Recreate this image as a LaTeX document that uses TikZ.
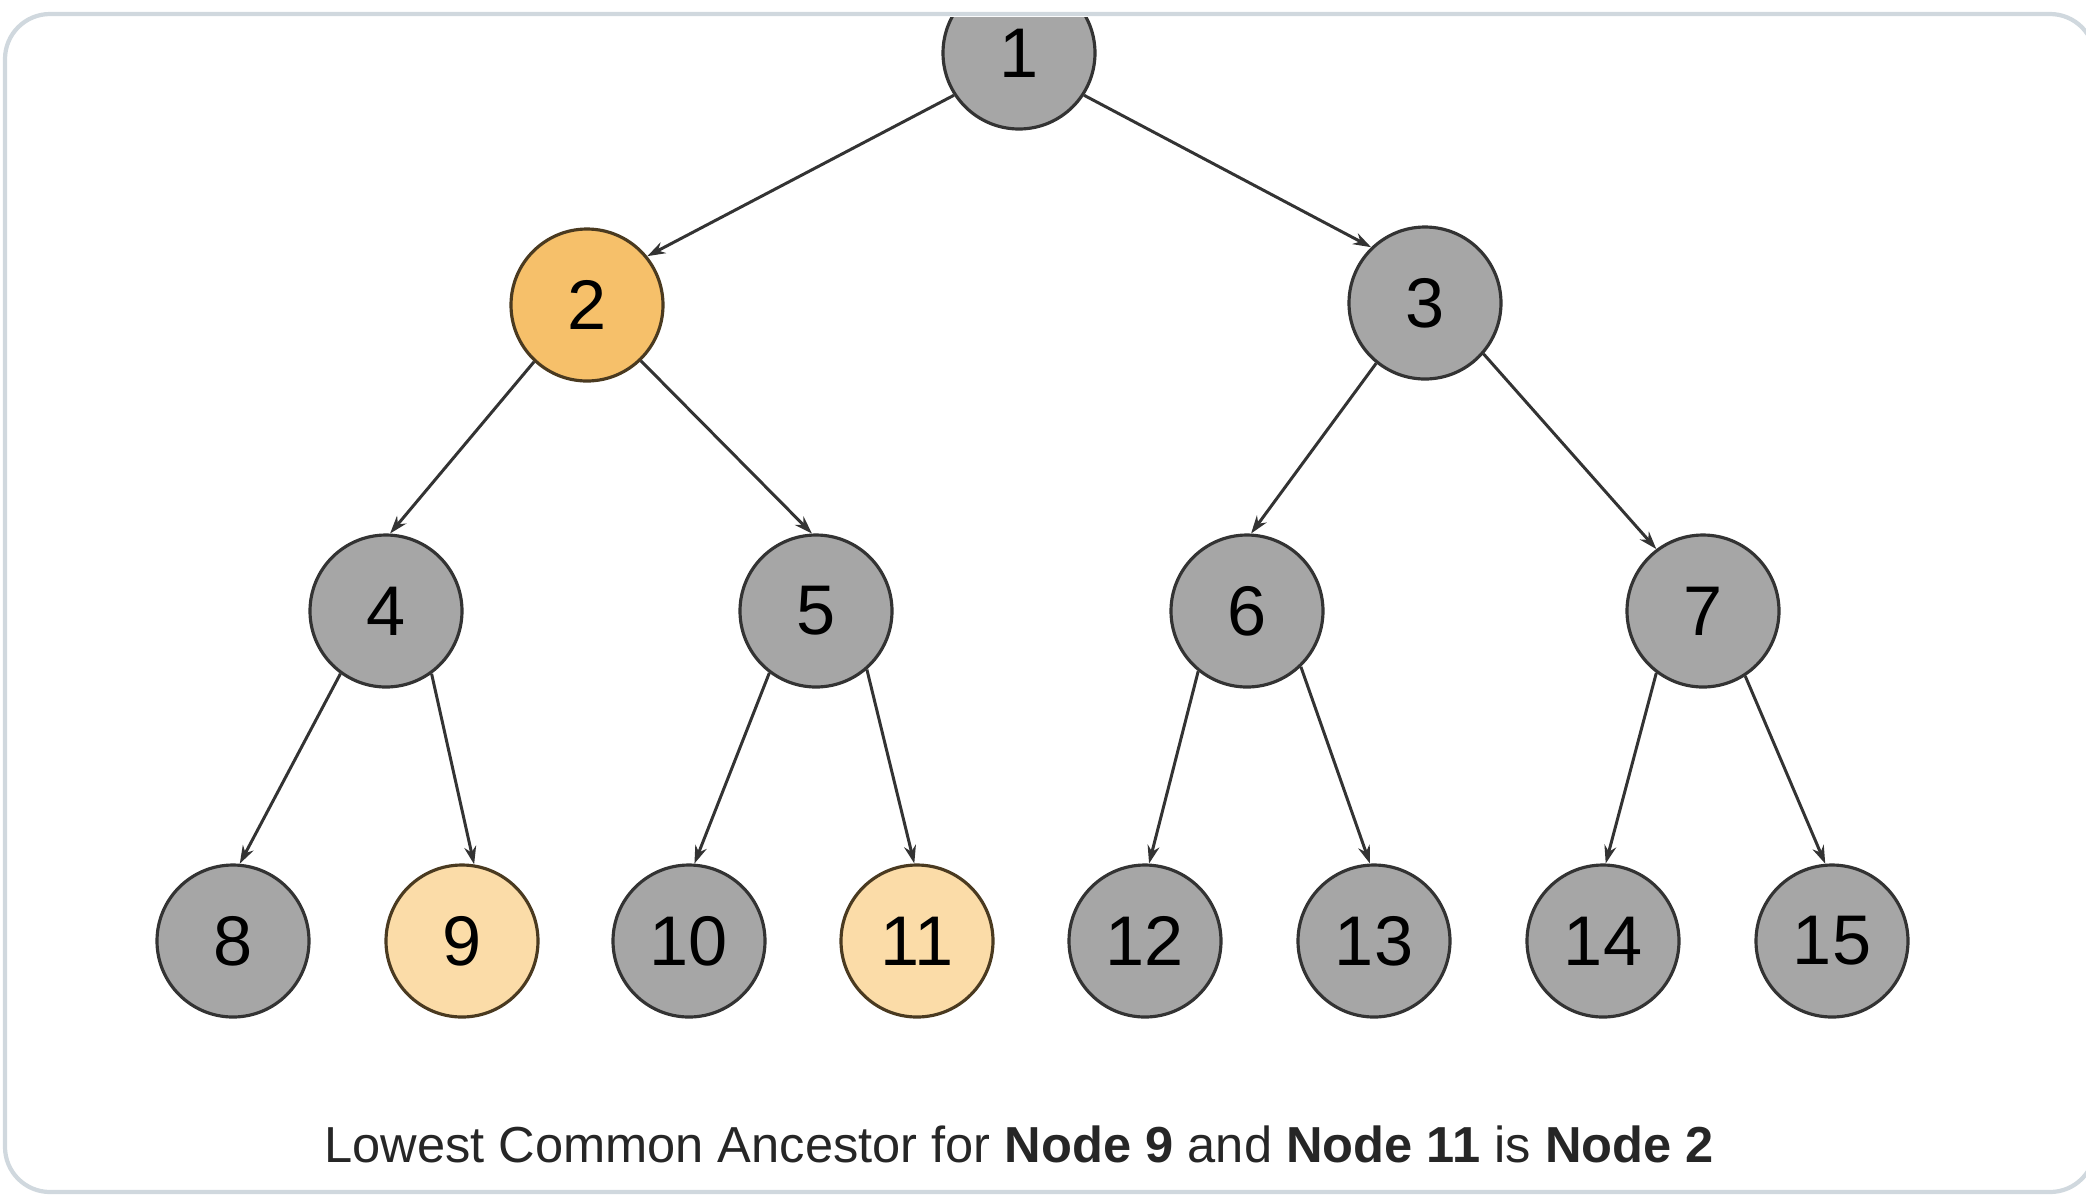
\documentclass[tikz,border=0pt]{standalone}
\usepackage{fontspec}
\setmainfont{Liberation Sans}
\usepackage{tikz}
\usetikzlibrary{arrows.meta}

\definecolor{nodegray}{RGB}{166,166,166}
\definecolor{lcaorange}{RGB}{246,192,106}
\definecolor{querypeach}{RGB}{251,220,168}
\definecolor{framegray}{RGB}{208,216,222}
\definecolor{edgegray}{RGB}{51,51,51}

\tikzset{
  treenode/.style={circle,draw=edgegray,line width=0.9pt,fill=nodegray,
    minimum size=1.52cm,inner sep=0pt,font=\fontsize{20}{24}\selectfont},
  lcanode/.style={treenode,fill=lcaorange,draw=black!70!lcaorange},
  querynode/.style={treenode,fill=querypeach,draw=black!70!lcaorange},
  edge/.style={-{Stealth[length=0.18cm,width=0.12cm]},line width=0.85pt,draw=edgegray}
}

\begin{document}
\begin{tikzpicture}
	\useasboundingbox (0,0) rectangle (20.86,-11.94);
	\draw[framegray,line width=1.2pt,rounded corners=0.45cm](0.05,-0.14)rectangle(20.95,-11.92);
	\begin{scope}
		\clip (0,-0.17) rectangle (20.86,-11.94);
		% level 0 and 1
		\node[treenode] (n1) at (10.19,-0.53) {1};
		\node[lcanode] (n2) at (5.87,-3.05) {2};
		\node[treenode] (n3) at (14.25,-3.03) {3};
		% level 2
		\node[treenode] (n4) at (3.86,-6.11) {4};
		\node[treenode] (n5) at (8.16,-6.11) {5};
		\node[treenode] (n6) at (12.47,-6.11) {6};
		\node[treenode] (n7) at (17.03,-6.11) {7};
		% leaves
		\node[treenode] (n8) at (2.33,-9.41) {8};
		\node[querynode] (n9) at (4.62,-9.41) {9};
		\node[treenode] (n10) at (6.89,-9.41) {10};
		\node[querynode] (n11) at (9.17,-9.41) {11};
		\node[treenode] (n12) at (11.45,-9.41) {12};
		\node[treenode] (n13) at (13.74,-9.41) {13};
		\node[treenode] (n14) at (16.03,-9.41) {14};
		\node[treenode] (n15) at (18.32,-9.41) {15};
	\end{scope}
	\draw[edge](n1.213)--(n2.39);
	\draw[edge](n1.-33)--(n3.134);
	\draw[edge](n2.227)--(n4.87);
	\draw[edge](n2.-46)--(n5.93);
	\draw[edge](n3.231)--(n6.87);
	\draw[edge](n3.-41)--(n7.127);
	\draw[edge](n4.234)--(n8.85);
	\draw[edge](n4.-54)--(n9.81);
	\draw[edge](n5.233)--(n10.86);
	\draw[edge](n5.-49)--(n11.92);
	\draw[edge](n6.231)--(n12.87);
	\draw[edge](n6.-46)--(n13.93);
	\draw[edge](n7.233)--(n14.88);
	\draw[edge](n7.-57)--(n15.95);
	\node[font=\fontsize{14.4}{17}\selectfont,text=black!85] (caption) at (10.19,-11.44)
		{Lowest Common Ancestor for \textbf{Node 9} and \textbf{Node 11} is \textbf{Node 2}};
\end{tikzpicture}
\end{document}
